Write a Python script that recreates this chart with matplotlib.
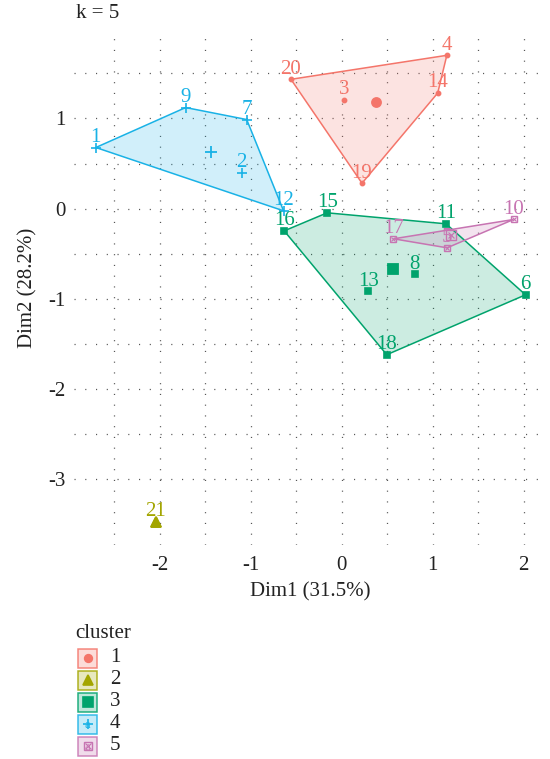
import numpy as np
import matplotlib
matplotlib.use('Agg')
import matplotlib.pyplot as plt
from matplotlib.patches import Polygon, Rectangle

plt.rcParams['font.family'] = ['Liberation Serif', 'DejaVu Serif']
plt.rcParams['axes.unicode_minus'] = False

# cluster membership and coordinates
clusters = ['1', '2', '3', '4', '5']
colors = ['#F4756A', '#A3A500', '#00A36C', '#19B2E6', '#C774B2']

c1_names = ['20', '4', '14', '3', '19']
c1_x = [-0.556, 1.157, 1.057, 0.030, 0.225]
c1_y = [1.434, 1.700, 1.282, 1.205, 0.282]

c2_names = ['21']
c2_x = [-2.044]
c2_y = [-3.470]

c3_names = ['16', '15', '11', '6', '18', '13', '8']
c3_x = [-0.630, -0.158, 1.149, 2.022, 0.497, 0.295, 0.803]
c3_y = [-0.246, -0.046, -0.168, -0.955, -1.619, -0.917, -0.725]

c4_names = ['1', '9', '7', '2', '12']
c4_x = [-2.700, -1.713, -1.042, -1.097, -0.637]
c4_y = [0.678, 1.121, 0.988, 0.400, -0.024]

c5_names = ['17', '10', '5']
c5_x = [0.571, 1.890, 1.160]
c5_y = [-0.334, -0.120, -0.434]

x_ticks = [-2, -1, 0, 1, 2]
y_ticks = [-3, -2, -1, 0, 1]

groups = [(c1_names, c1_x, c1_y), (c2_names, c2_x, c2_y), (c3_names, c3_x, c3_y),
          (c4_names, c4_x, c4_y), (c5_names, c5_x, c5_y)]
pt_markers = ['o', '^', 's', '+', 's']
pt_sizes = [3, 6.5, 4.5, 7, 4.5]
cen_sizes = [6.5, 6.5, 6.5, 9, 6.5]
FS = 15


def hull(px, py):
    # monotone chain convex hull
    pts = sorted(set(zip(px, py)))
    if len(pts) < 3:
        return pts
    def cross(o, a, b):
        return (a[0]-o[0])*(b[1]-o[1]) - (a[1]-o[1])*(b[0]-o[0])
    lower, upper = [], []
    for p in pts:
        while len(lower) >= 2 and cross(lower[-2], lower[-1], p) <= 0:
            lower.pop()
        lower.append(p)
    for p in reversed(pts):
        while len(upper) >= 2 and cross(upper[-2], upper[-1], p) <= 0:
            upper.pop()
        upper.append(p)
    return lower[:-1] + upper[:-1]


fig = plt.figure(figsize=(5.5, 7.59), dpi=100)
ax = fig.add_axes([74/550, 1-545/759, 473/550, 513/759])
ax.set_xlim(-2.94, 2.258)
ax.set_ylim(-3.7285, 1.9585)

# dotted grid, majors and halves
dots = dict(color='#555555', lw=0.9, linestyle=(0, (0.9, 7.7)), zorder=0)
for v in np.arange(-2.5, 2.3, 0.5):
    ax.axvline(v, **dots)
for v in np.arange(-3.0, 2.0, 0.5):
    ax.axhline(v, **dots)

for i, (names, xs, ys) in enumerate(groups):
    col = colors[i]
    h = hull(xs, ys)
    if len(h) >= 3:
        ax.add_patch(Polygon(h, closed=True, facecolor=col, alpha=0.2, edgecolor='none', zorder=1))
        ax.add_patch(Polygon(h, closed=True, facecolor='none', edgecolor=col, lw=1.1, zorder=2))
    if i == 4:
        ax.plot(xs, ys, 's', ms=pt_sizes[i], mfc='none', mec=col, mew=1.0, zorder=3)
        ax.plot(xs, ys, 'x', ms=pt_sizes[i]*0.7, mec=col, mew=0.8, zorder=3)
    else:
        ax.plot(xs, ys, pt_markers[i], ms=pt_sizes[i], color=col, mew=1.2, zorder=3)
    for n, x, y in zip(names, xs, ys):
        ax.annotate(n, (x, y), xytext=(0, 4), textcoords='offset points',
                    ha='center', va='baseline', fontsize=FS, color=col, zorder=4)
    cx, cy = np.mean(xs), np.mean(ys)
    if i == 4:
        ax.plot(cx, cy, 's', ms=cen_sizes[i], mfc='none', mec=col, mew=1.0, zorder=5)
        ax.plot(cx, cy, 'x', ms=cen_sizes[i]*0.7, mec=col, mew=0.9, zorder=5)
    else:
        ax.plot(cx, cy, pt_markers[i], ms=cen_sizes[i], color=col, mew=1.3, zorder=5)

ax.set_xticks(x_ticks)
ax.set_yticks(y_ticks)
ax.tick_params(length=0, labelsize=FS, colors='#222222')
ax.tick_params(axis='x', pad=8)
ax.tick_params(axis='y', pad=6)
for s in ax.spines.values():
    s.set_visible(False)

fig.text(76/550, 1-14/759, 'k = 5', ha='left', va='center', fontsize=FS, color='#222222')
fig.text(310/550, 1-592/759, 'Dim1 (31.5%)', ha='center', va='center', fontsize=FS, color='#222222')
fig.text(28/550, 1-288/759, 'Dim2 (28.2%)', ha='center', va='center', rotation=90,
         fontsize=FS, color='#222222')

# legend drawn in pixel space
lg = fig.add_axes([0, 0, 1, 1])
lg.set_xlim(0, 550)
lg.set_ylim(759, 0)
lg.axis('off')
lg.text(75, 634, 'cluster', ha='left', va='center', fontsize=FS, color='#222222')
for i, c in enumerate(clusters):
    yc = 658 + 22*i
    col = colors[i]
    lg.add_patch(Rectangle((78, yc-9.5), 19, 19, facecolor=col, alpha=0.25, edgecolor='none'))
    lg.add_patch(Rectangle((78, yc-9.5), 19, 19, facecolor='none', edgecolor=col, lw=1.1, alpha=0.85))
    if i >= 3:
        lg.text(87.5, yc+1, 'a', ha='center', va='center', fontsize=9, color=col)
    if i == 4:
        lg.plot(87.5, yc, 's', ms=6, mfc='none', mec=col, mew=1.0)
        lg.plot(87.5, yc, 'x', ms=4, mec=col, mew=0.8)
    else:
        lg.plot(87.5, yc, pt_markers[i], ms=[5.5, 7, 6.5, 7, 6][i], color=col, mew=1.2)
    lg.text(110, yc, c, ha='left', va='center', fontsize=FS, color='#222222')

fig.savefig('out.png', dpi=100)
